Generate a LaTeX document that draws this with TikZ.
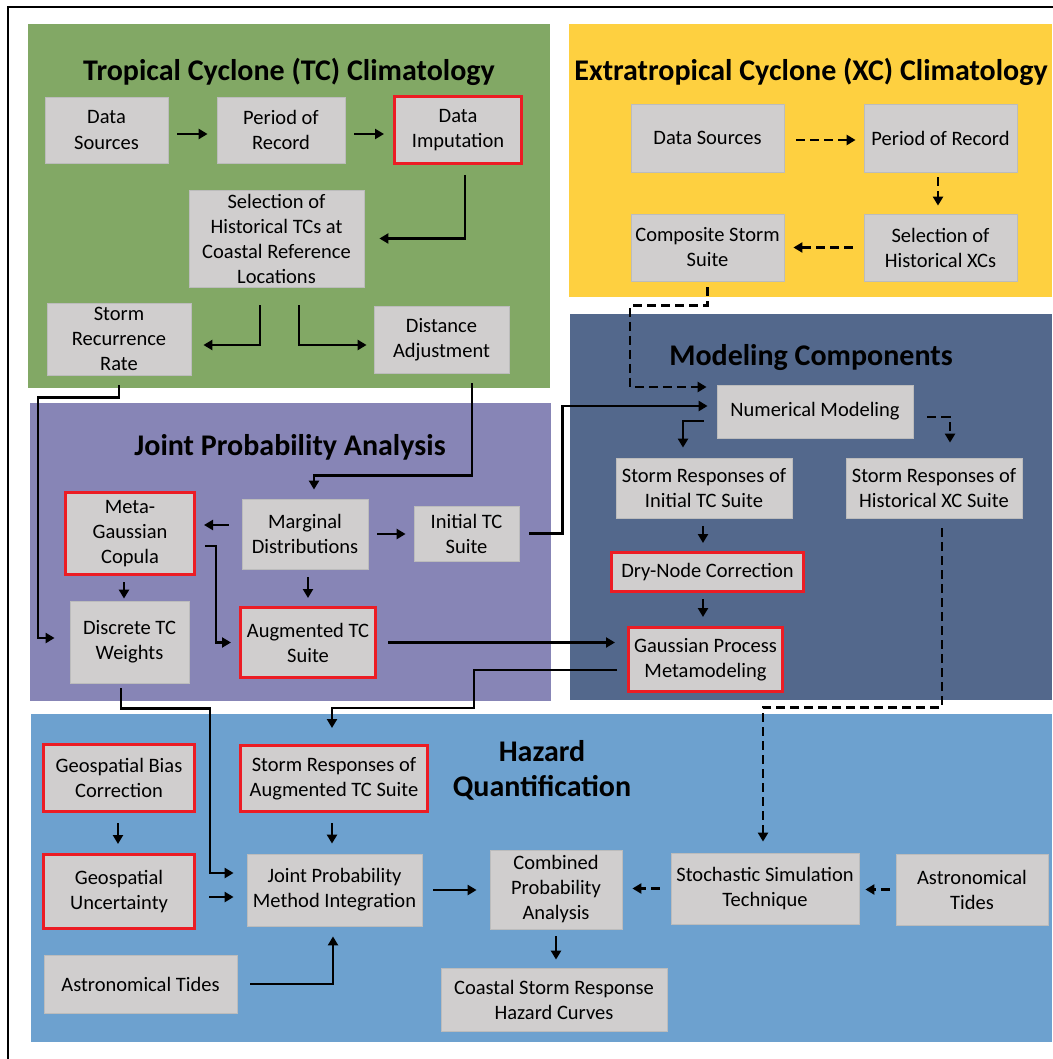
\documentclass[tikz,border=0pt]{standalone}
\usepackage{fontspec}
\setmainfont{Carlito}
\usetikzlibrary{arrows.meta}

\definecolor{tcgreen}{RGB}{130,168,101}
\definecolor{xcyellow}{RGB}{254,208,64}
\definecolor{mcblue}{RGB}{83,104,140}
\definecolor{jppurple}{RGB}{135,133,182}
\definecolor{hqblue}{RGB}{109,161,207}
\definecolor{boxgray}{RGB}{208,206,206}
\definecolor{boxedge}{RGB}{188,188,188}
\definecolor{redline}{RGB}{236,28,36}

\tikzset{
  box/.style={fill=boxgray, draw=boxedge, line width=0.8pt, align=center, inner sep=1pt,
    font=\fontsize{20.5}{25}\selectfont},
  redbox/.style={box, draw=redline, line width=3pt},
  sz/.style 2 args={minimum width=#1pt, minimum height=#2pt},
  ttl/.style={font=\fontsize{30}{35}\selectfont\bfseries, align=center},
  arr/.style={line width=2.7pt, -{Triangle[length=9pt,width=10pt]}, shorten <=9pt, shorten >=9pt},
  darr/.style={arr, dash pattern=on 9pt off 5pt}
}

\begin{document}
\begin{tikzpicture}[x=1pt, y=-1pt]
   \useasboundingbox (0,0) rectangle (1052,1059);

   % frame and panels
   \draw[line width=2pt] (8,1070) -- (8,7) -- (1070,7);
   \fill[tcgreen] (28,24) rectangle (550,388);
   \fill[xcyellow] (569,24) rectangle (1052,297);
   \fill[mcblue] (570,314) rectangle (1052,700);
   \fill[jppurple] (30,403) rectangle (551,701);
   \fill[hqblue] (31,714) rectangle (1052,1042);

   \node[ttl] (t1) at (289,72) {Tropical Cyclone (TC) Climatology};
   \node[ttl] (t2) at (811,72) {Extratropical Cyclone (XC) Climatology};
   \node[ttl] (t3) at (811,358) {Modeling Components};
   \node[ttl] (t4) at (290,447) {Joint Probability Analysis};
   \node[ttl] (t5) at (542,770) {Hazard\\Quantification};

   % TC climatology
   \node[box, sz={123}{66}] (ds) at (106.5,130) {Data\\Sources};
   \node[box, sz={128}{66}] (por) at (281,130) {Period of\\Record};
   \node[redbox, sz={127}{67}] (di) at (458,130) {Data\\Imputation};
   \node[box, sz={175}{97}] (sel) at (276.5,238.5) {Selection of\\Historical TCs at\\Coastal Reference\\Locations};
   \node[box, sz={144}{72}] (srr) at (119,339) {Storm\\Recurrence\\Rate};
   \node[box, sz={135}{67}] (da) at (441.5,339.5) {Distance\\Adjustment};

   % XC climatology
   \node[box, sz={153}{68}] (xds) at (707.5,138) {Data Sources};
   \node[box, sz={153}{68}] (xpor) at (940.5,138) {Period of Record};
   \node[box, sz={153}{67}] (xsel) at (940.5,247.5) {Selection of\\Historical XCs};
   \node[box, sz={153}{67}] (css) at (707.5,247.5) {Composite Storm\\Suite};

   % joint probability analysis
   \node[redbox, sz={129}{82}] (mgc) at (130,533.5) {Meta-\\Gaussian\\Copula};
   \node[box, sz={126}{70}] (md) at (305,534) {Marginal\\Distributions};
   \node[box, sz={105}{55}] (itc) at (466.5,533.5) {Initial TC\\Suite};
   \node[box, sz={119}{82}] (dtw) at (129.5,642) {Discrete TC\\Weights};
   \node[redbox, sz={135}{70}] (atc) at (308,642.5) {Augmented TC\\Suite};

   % modeling components
   \node[box, sz={196}{53}] (nm) at (815,411.5) {Numerical Modeling};
   \node[box, sz={176}{60}] (sri) at (704,488) {Storm Responses of\\Initial TC Suite};
   \node[box, sz={176}{60}] (srx) at (934,488) {Storm Responses of\\Historical XC Suite};
   \node[redbox, sz={192}{39}] (dnc) at (707.5,572) {Dry-Node Correction};
   \node[redbox, sz={154}{64}] (gpm) at (705.5,659.5) {Gaussian Process\\Metamodeling};

   % hazard quantification
   \node[redbox, sz={151}{67}] (gbc) at (119,778) {Geospatial Bias\\Correction};
   \node[redbox, sz={151}{74}] (gu) at (119,891.5) {Geospatial\\Uncertainty};
   \node[box, sz={193}{58}] (at1) at (140.5,984) {Astronomical Tides};
   \node[redbox, sz={187}{66}] (sra) at (334,778.5) {Storm Responses of\\Augmented TC Suite};
   \node[box, sz={175}{72}] (jpm) at (334.5,890) {Joint Probability\\Method Integration};
   \node[box, sz={132}{79}] (cpa) at (556,889.5) {Combined\\Probability\\Analysis};
   \node[box, sz={226}{63}] (csr) at (554,999.5) {Coastal Storm Response\\Hazard Curves};
   \node[box, sz={188}{71}] (sst) at (765,888.5) {Stochastic Simulation\\Technique};
   \node[box, sz={152}{71}] (at2) at (972,889.5) {Astronomical\\Tides};

   % TC connectors
   \draw[arr] ([yshift=-4pt]ds.east) -- ([yshift=-4pt]ds.east -| por.west);
   \draw[arr] ([yshift=-4pt]por.east) -- ([yshift=-4pt]por.east -| di.west);
   \draw[arr, shorten <=10pt, shorten >=15pt] ([xshift=7pt]di.south) |- (sel.east);
   \draw[arr, shorten <=18pt, shorten >=12pt] ([xshift=-16.5pt]sel.south) |- ([yshift=-6pt]srr.east);
   \draw[arr, shorten <=18pt, shorten >=7pt] ([xshift=22.5pt]sel.south) |- ([yshift=-5.5pt]da.west);
   \draw[arr, shorten <=10pt] ([xshift=30.5pt]da.south) -- ++(0,102) -| ([xshift=9pt]md.north);
   \draw[arr, shorten <=10pt, shorten >=15pt] (srr.south) -- ++(0,22) -- ++(-81,0) |- ([yshift=4pt]dtw.west);

   % XC connectors
   \draw[darr, shorten <=12pt, shorten >=8pt] ([yshift=-2pt]xds.east) -- ([yshift=-2pt]xds.east -| xpor.west);
   \draw[darr, shorten <=5pt, shorten >=8pt] ([xshift=-2.5pt]xpor.south) -- ([xshift=-2.5pt]xpor.south |- xsel.north);
   \draw[darr, shorten <=11pt, shorten >=9pt] (xsel.west) -- (css.east);
   \draw[darr, shorten <=6pt, shorten >=10pt] (css.south) -- ++(0,24) -- ++(-77.5,0) |- ([yshift=24.5pt]nm.west);

   % joint probability connectors
   \draw[arr, shorten <=13pt, shorten >=8pt] ([yshift=9pt]md.west) -- ([yshift=9pt]md.west -| mgc.east);
   \draw[arr, shorten >=8pt] (md.east) -- (md.east -| itc.west);
   \draw[arr, shorten <=6pt, shorten >=2pt] ([xshift=-6pt]mgc.south) -- ([xshift=-6pt]mgc.south |- dtw.north);
   \draw[arr, shorten <=8pt, shorten >=8pt] ([xshift=3pt]md.south) -- ([xshift=3pt]md.south |- atc.north);
   \draw[arr, shorten >=8pt] ([yshift=-12.5pt]mgc.east) -- ++(20,0) |- (atc.west);
   \draw[arr, shorten <=10pt] (itc.east) -- ++(43,0) |- ([yshift=5.5pt]nm.west);
   \draw[arr, shorten <=11pt, shorten >=12pt] (atc.east) -- (atc.east -| gpm.west);

   % modeling connectors
   \draw[arr, shorten <=13pt, shorten >=10pt] ([yshift=-9.5pt]nm.west) -| ([xshift=-21pt]sri.north);
   \draw[darr, shorten <=14pt, shorten >=15pt] ([yshift=-5.5pt]nm.east) -| ([xshift=16pt]srx.north);
   \draw[arr, shorten <=8pt, shorten >=8pt] ([xshift=-1pt]sri.south) -- ([xshift=-1pt]sri.south |- dnc.north);
   \draw[arr, shorten <=6pt, shorten >=9pt] ([xshift=-4.5pt]dnc.south) -- ([xshift=-4.5pt]dnc.south |- gpm.north);
   \draw[darr, shorten <=10pt, shorten >=11pt] ([xshift=8pt]srx.south) -- ++(0,189) -| ([xshift=-2pt]sst.north);
   \draw[arr, shorten <=10pt, shorten >=16pt] ([yshift=-10.5pt]gpm.west) -- ++(-153,0) -- ++(0,38) -| ([xshift=-2pt]sra.north);

   % hazard connectors
   \draw[arr, shorten <=5pt, shorten >=13pt] ([xshift=-8.5pt]dtw.south) -- ++(0,25) -- ++(89,0) |- ([yshift=17pt]jpm.west);
   \draw[arr, shorten <=10pt, shorten >=9pt] ([xshift=-1pt]gbc.south) -- ([xshift=-1pt]gbc.south |- gu.north);
   \draw[arr, shorten <=13pt, shorten >=13pt] ([yshift=-5.5pt]gu.east) -- ([yshift=-5.5pt]gu.east -| jpm.west);
   \draw[arr, shorten <=10pt, shorten >=10pt] ([xshift=-2pt]sra.south) -- ([xshift=-2pt]sra.south |- jpm.north);
   \draw[arr, shorten <=13pt, shorten >=10pt] (at1.east) -| ([xshift=-1.5pt]jpm.south);
   \draw[arr, shorten <=11pt, shorten >=13pt] (jpm.east) -- (jpm.east -| cpa.west);
   \draw[darr, shorten <=11pt, shorten >=10pt] (sst.west) -- (sst.west -| cpa.east);
   \draw[darr, shorten <=6pt, shorten >=6pt] (at2.west) -- (at2.west -| sst.east);
   \draw[arr, shorten <=7pt, shorten >=8pt] (cpa.south) -- (cpa.south |- csr.north);

\end{tikzpicture}
\end{document}
